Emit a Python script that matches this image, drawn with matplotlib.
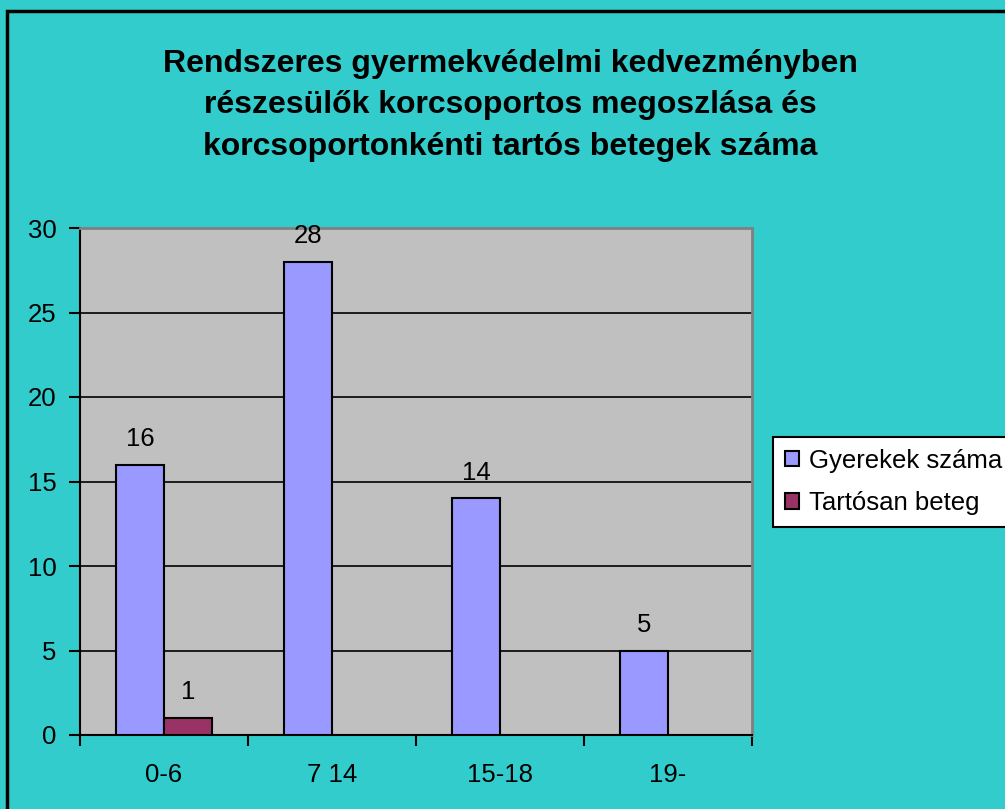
import matplotlib
matplotlib.use("Agg")
import matplotlib.pyplot as plt
import numpy as np
from matplotlib.patches import Rectangle

categories = ["0-6", "7 14", "15-18", "19-"]
gyerekek = [16, 28, 14, 5]
tartosan = [1, None, None, None]
series_names = ["Gyerekek száma", "Tartósan beteg"]
title = ("Rendszeres gyermekvédelmi kedvezményben\n"
         "részesülők korcsoportos megoszlása és\n"
         "korcsoportonkénti tartós betegek száma")

plt.rcParams['font.family'] = ['Liberation Sans', 'DejaVu Sans']

W, H = 1005, 809
FS = 18.5
fig = plt.figure(figsize=(W / 100, H / 100), dpi=100)
fig.patch.set_facecolor('#33CCCC')

ax = fig.add_axes([80 / W, 1 - 735 / H, (752 - 80) / W, (735 - 228) / H])
ax.set_facecolor('#C0C0C0')

x = np.arange(len(categories))
bw = 48 / 168
g_vals = np.array(gyerekek, dtype=float)
t_vals = np.array([v if v is not None else np.nan for v in tartosan], dtype=float)

b1 = ax.bar(x - bw / 2, g_vals, width=bw, color='#9999FF', edgecolor='black',
            linewidth=1.5, label=series_names[0], zorder=3)
b2 = ax.bar(x + bw / 2, np.nan_to_num(t_vals), width=bw, color='#993366',
            edgecolor='black', linewidth=1.5, label=series_names[1], zorder=3)
for rect, v in zip(b2, t_vals):
    if np.isnan(v):
        rect.set_visible(False)

for rect, v in zip(b1, g_vals):
    ax.annotate(f"{int(v)}", (rect.get_x() + rect.get_width() / 2, v),
                xytext=(0, 10), textcoords='offset points', ha='center',
                va='bottom', fontsize=FS)
for rect, v in zip(b2, t_vals):
    if not np.isnan(v):
        ax.annotate(f"{int(v)}", (rect.get_x() + rect.get_width() / 2, v),
                    xytext=(0, 10), textcoords='offset points', ha='center',
                    va='bottom', fontsize=FS)

ax.set_xlim(-0.5, len(categories) - 0.5)
ax.set_ylim(0, 30)
ax.set_yticks(np.arange(0, 31, 5))
ax.yaxis.grid(True, color='black', linewidth=1.2, zorder=1)
ax.set_axisbelow(True)

ax.set_xticks(x)
ax.set_xticklabels(categories, fontsize=FS)
ax.tick_params(axis='x', which='major', length=0, pad=20)
ax.set_xticks(np.arange(-0.5, len(categories), 1), minor=True)
ax.tick_params(axis='x', which='minor', length=8, width=1.5, direction='out')
ax.tick_params(axis='y', labelsize=FS, length=8, width=1.5, direction='out', pad=9)

for s in ['left', 'bottom']:
    ax.spines[s].set_color('black')
    ax.spines[s].set_linewidth(1.5)
for s in ['top', 'right']:
    ax.spines[s].set_color('#808080')
    ax.spines[s].set_linewidth(2)

fig.text(510 / W, 1 - 49 / H, title, ha='center', va='top', fontsize=23,
         fontweight='bold', linespacing=1.5)

leg = fig.legend(handles=[b1, b2], labels=series_names, loc='upper left',
                 bbox_to_anchor=(773 / W, 1 - 437 / H), fontsize=FS,
                 frameon=True, fancybox=False, edgecolor='black',
                 framealpha=1, facecolor='white', handlelength=0.55,
                 handleheight=0.55, handletextpad=0.4, borderpad=0.45,
                 labelspacing=0.72, borderaxespad=0)
leg.get_frame().set_linewidth(1.5)

fig.patches.append(Rectangle((7 / W, -0.05), 1.1, 1 - 11 / H + 0.05,
                             transform=fig.transFigure, fill=False,
                             edgecolor='black', linewidth=2.5, zorder=10))

fig.savefig('out.png', dpi=100, facecolor=fig.get_facecolor())
